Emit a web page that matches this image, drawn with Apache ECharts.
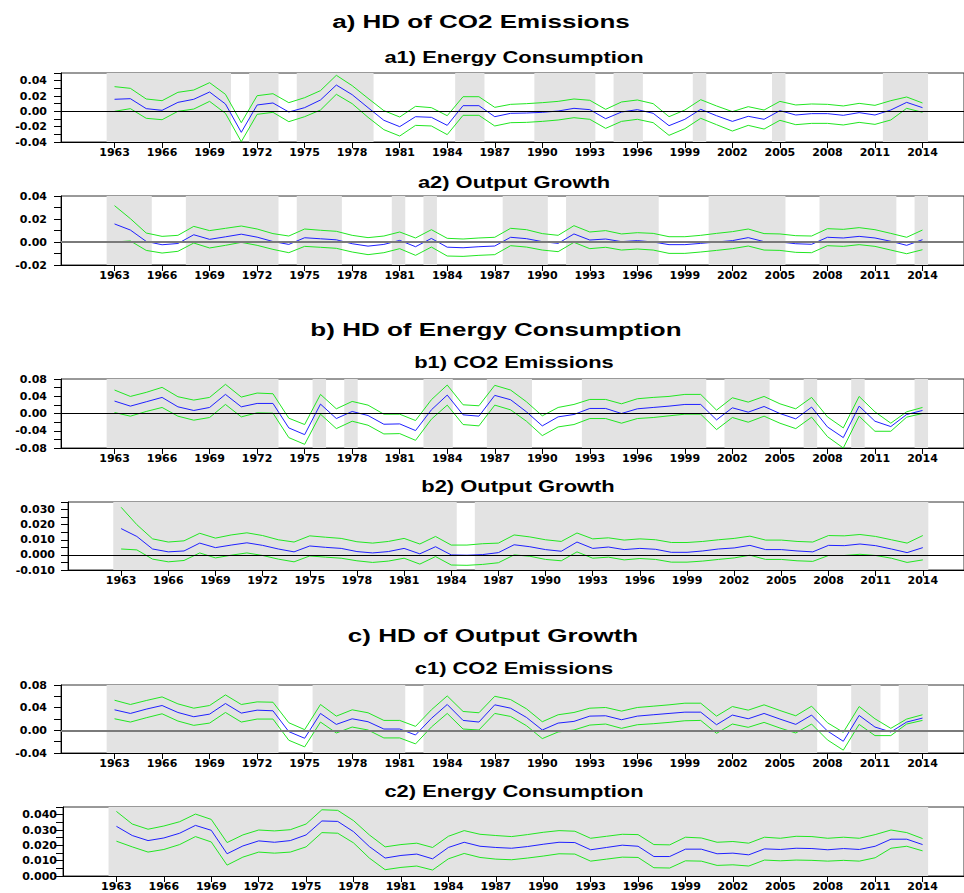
<!DOCTYPE html>
<html>
<head>
<meta charset="utf-8">
<title>Historical decomposition</title>
<script src="https://cdn.jsdelivr.net/npm/echarts@6/dist/echarts.min.js"></script>
<style>
  html, body { margin: 0; padding: 0; background: #ffffff; }
  #chart { width: 964px; height: 893px; }
</style>
</head>
<body>
<div id="chart"></div>
<script>
// ---------- data ----------
const years = [1963,1964,1965,1966,1967,1968,1969,1970,1971,1972,1973,1974,1975,1976,1977,1978,1979,1980,1981,1982,1983,1984,1985,1986,
  1987,1988,1989,1990,1991,1992,1993,1994,1995,1996,1997,1998,1999,2000,2001,2002,2003,2004,2005,2006,2007,2008,2009,2010,2011,2012,2013,2014];
const xTickYears = [1963,1966,1969,1972,1975,1978,1981,1984,1987,1990,1993,1996,1999,2002,2005,2008,2011,2014];

// a1) HD of CO2 emissions: energy consumption
const a1Mid = [0.0157,0.0165,0.0035,0.0013,0.0117,0.0157,0.0252,0.0096,-0.0274,0.0083,0.0109,-0.0009,0.0048,0.0148,0.0343,0.0217,0.0048,-0.0117,-0.0200,-0.0070,-0.0078,-0.0183,0.0074,0.0074,
  -0.0070,-0.0026,-0.0022,-0.0013,0.0004,0.0039,0.0022,-0.0096,-0.0009,0.0022,-0.0026,-0.0187,-0.0104,0.0026,-0.0057,-0.0131,-0.0065,-0.0104,0.0009,-0.0048,-0.0030,-0.0030,-0.0052,-0.0017,-0.0048,0.0017,0.0117,0.0048];
const a1Upper = [0.0322,0.0300,0.0161,0.0139,0.0248,0.0278,0.0374,0.0222,-0.0148,0.0204,0.0230,0.0113,0.0178,0.0270,0.0470,0.0335,0.0170,0.0009,-0.0074,0.0065,0.0048,-0.0057,0.0191,0.0191,
  0.0052,0.0091,0.0100,0.0113,0.0130,0.0161,0.0144,0.0026,0.0122,0.0148,0.0100,-0.0070,0.0017,0.0152,0.0070,-0.0004,0.0061,0.0017,0.0130,0.0083,0.0096,0.0091,0.0070,0.0104,0.0078,0.0139,0.0187,0.0109];
const a1Lower = [0.0000,0.0035,-0.0091,-0.0109,0.0000,0.0030,0.0130,-0.0026,-0.0396,-0.0039,-0.0013,-0.0135,-0.0070,0.0017,0.0222,0.0100,-0.0078,-0.0239,-0.0322,-0.0183,-0.0191,-0.0304,-0.0052,-0.0052,
  -0.0191,-0.0148,-0.0144,-0.0131,-0.0113,-0.0083,-0.0104,-0.0222,-0.0131,-0.0104,-0.0148,-0.0313,-0.0226,-0.0091,-0.0174,-0.0257,-0.0183,-0.0231,-0.0117,-0.0174,-0.0157,-0.0157,-0.0178,-0.0144,-0.0170,-0.0113,0.0039,-0.0013];

// a2) HD of CO2 emissions: output growth
const a2Mid = [0.0157,0.0104,0.0005,-0.0024,-0.0013,0.0063,0.0023,0.0045,0.0068,0.0042,0.0004,-0.0021,0.0037,0.0028,0.0019,-0.0015,-0.0036,-0.0021,0.0014,-0.0041,0.0031,-0.0045,-0.0050,-0.0041,
  -0.0035,0.0041,0.0029,0.0003,-0.0012,0.0070,0.0017,0.0026,0.0003,0.0012,0.0000,-0.0023,-0.0023,-0.0012,0.0000,0.0012,0.0038,0.0003,0.0000,-0.0015,-0.0020,0.0041,0.0035,0.0049,0.0035,0.0006,-0.0029,0.0020];
const a2Upper = [0.0316,0.0203,0.0078,0.0049,0.0058,0.0136,0.0099,0.0119,0.0139,0.0113,0.0073,0.0052,0.0113,0.0102,0.0093,0.0058,0.0038,0.0052,0.0087,0.0035,0.0107,0.0032,0.0026,0.0035,
  0.0041,0.0119,0.0107,0.0073,0.0058,0.0142,0.0087,0.0099,0.0070,0.0081,0.0075,0.0046,0.0046,0.0058,0.0075,0.0090,0.0113,0.0073,0.0070,0.0055,0.0052,0.0116,0.0110,0.0125,0.0107,0.0075,0.0041,0.0104];
const a2Lower = [0.0000,0.0009,-0.0073,-0.0096,-0.0081,-0.0009,-0.0052,-0.0029,-0.0003,-0.0029,-0.0064,-0.0093,-0.0038,-0.0046,-0.0055,-0.0087,-0.0110,-0.0093,-0.0058,-0.0116,-0.0044,-0.0122,-0.0125,-0.0116,
  -0.0110,-0.0032,-0.0044,-0.0070,-0.0084,-0.0003,-0.0058,-0.0046,-0.0070,-0.0061,-0.0070,-0.0099,-0.0099,-0.0087,-0.0073,-0.0058,-0.0035,-0.0070,-0.0073,-0.0090,-0.0093,-0.0032,-0.0038,-0.0023,-0.0038,-0.0070,-0.0102,-0.0067];

// b1) HD of energy consumption: CO2 emissions
const b1Mid = [0.0288,0.0171,0.0272,0.0373,0.0155,0.0070,0.0140,0.0443,0.0155,0.0233,0.0233,-0.0334,-0.0490,0.0218,-0.0117,0.0047,-0.0047,-0.0249,-0.0241,-0.0396,0.0085,0.0427,-0.0031,-0.0062,
  0.0420,0.0319,0.0039,-0.0287,-0.0078,-0.0023,0.0117,0.0117,0.0000,0.0109,0.0140,0.0171,0.0210,0.0210,-0.0148,0.0132,0.0031,0.0163,0.0000,-0.0124,0.0148,-0.0311,-0.0559,0.0171,-0.0179,-0.0303,-0.0023,0.0070];
const b1Upper = [0.0544,0.0396,0.0490,0.0606,0.0389,0.0311,0.0373,0.0676,0.0381,0.0474,0.0458,-0.0109,-0.0256,0.0443,0.0109,0.0280,0.0194,-0.0016,-0.0016,-0.0163,0.0319,0.0660,0.0202,0.0179,
  0.0653,0.0544,0.0272,-0.0054,0.0140,0.0210,0.0326,0.0326,0.0225,0.0342,0.0373,0.0396,0.0443,0.0443,0.0078,0.0365,0.0264,0.0396,0.0225,0.0109,0.0373,-0.0078,-0.0334,0.0396,0.0039,-0.0225,0.0039,0.0140];
const b1Lower = [0.0023,-0.0062,0.0047,0.0140,-0.0062,-0.0155,-0.0093,0.0210,-0.0078,0.0016,0.0008,-0.0559,-0.0715,-0.0016,-0.0350,-0.0179,-0.0272,-0.0474,-0.0466,-0.0622,-0.0132,0.0194,-0.0256,-0.0287,
  0.0194,0.0085,-0.0179,-0.0513,-0.0311,-0.0256,-0.0117,-0.0117,-0.0225,-0.0117,-0.0093,-0.0054,-0.0016,-0.0016,-0.0373,-0.0093,-0.0202,-0.0062,-0.0225,-0.0350,-0.0085,-0.0536,-0.0800,-0.0062,-0.0412,-0.0412,-0.0085,0.0000];

// b2) HD of energy consumption: output growth
const b2Mid = [0.0174,0.0122,0.0039,0.0020,0.0026,0.0078,0.0048,0.0065,0.0080,0.0063,0.0039,0.0020,0.0059,0.0050,0.0043,0.0022,0.0013,0.0022,0.0043,0.0007,0.0054,0.0000,-0.0002,0.0002,
  0.0015,0.0067,0.0054,0.0035,0.0024,0.0085,0.0043,0.0052,0.0035,0.0043,0.0037,0.0017,0.0017,0.0026,0.0039,0.0046,0.0063,0.0035,0.0035,0.0026,0.0020,0.0063,0.0061,0.0072,0.0061,0.0039,0.0015,0.0048];
const b2Upper = [0.0315,0.0200,0.0106,0.0085,0.0093,0.0143,0.0111,0.0132,0.0146,0.0128,0.0100,0.0085,0.0126,0.0117,0.0109,0.0087,0.0078,0.0089,0.0109,0.0072,0.0122,0.0065,0.0065,0.0074,
  0.0078,0.0132,0.0119,0.0100,0.0089,0.0145,0.0106,0.0113,0.0098,0.0106,0.0100,0.0082,0.0082,0.0089,0.0100,0.0109,0.0124,0.0098,0.0098,0.0089,0.0085,0.0128,0.0126,0.0135,0.0122,0.0100,0.0078,0.0128];
const b2Lower = [0.0039,0.0033,-0.0028,-0.0046,-0.0037,0.0013,-0.0020,-0.0002,0.0013,-0.0004,-0.0028,-0.0046,-0.0007,-0.0015,-0.0022,-0.0039,-0.0050,-0.0041,-0.0022,-0.0061,-0.0011,-0.0067,-0.0069,-0.0063,
  -0.0052,0.0000,-0.0009,-0.0030,-0.0039,0.0020,-0.0022,-0.0015,-0.0033,-0.0024,-0.0030,-0.0048,-0.0048,-0.0041,-0.0030,-0.0020,-0.0002,-0.0030,-0.0030,-0.0039,-0.0043,-0.0004,-0.0004,0.0004,-0.0004,-0.0022,-0.0050,-0.0033];

// c1) HD of output growth: CO2 emissions
const c1Mid = [0.0362,0.0298,0.0374,0.0438,0.0315,0.0240,0.0286,0.0473,0.0304,0.0356,0.0345,-0.0023,-0.0140,0.0298,0.0105,0.0204,0.0152,0.0023,0.0023,-0.0082,0.0210,0.0456,0.0175,0.0146,
  0.0450,0.0391,0.0228,0.0006,0.0128,0.0158,0.0251,0.0257,0.0187,0.0251,0.0275,0.0298,0.0321,0.0321,0.0099,0.0269,0.0204,0.0298,0.0199,0.0105,0.0269,-0.0012,-0.0193,0.0263,0.0058,-0.0029,0.0146,0.0216];
const c1Upper = [0.0531,0.0456,0.0526,0.0590,0.0467,0.0391,0.0438,0.0625,0.0456,0.0502,0.0496,0.0134,0.0012,0.0456,0.0251,0.0362,0.0310,0.0175,0.0175,0.0070,0.0362,0.0607,0.0333,0.0310,
  0.0601,0.0543,0.0380,0.0152,0.0275,0.0315,0.0391,0.0403,0.0339,0.0403,0.0426,0.0450,0.0479,0.0479,0.0251,0.0420,0.0356,0.0450,0.0350,0.0257,0.0426,0.0134,-0.0035,0.0420,0.0204,0.0035,0.0199,0.0275];
const c1Lower = [0.0204,0.0146,0.0222,0.0292,0.0164,0.0088,0.0128,0.0315,0.0146,0.0199,0.0199,-0.0175,-0.0292,0.0146,-0.0047,0.0058,0.0006,-0.0134,-0.0134,-0.0239,0.0058,0.0298,0.0023,0.0006,
  0.0298,0.0245,0.0082,-0.0146,-0.0029,0.0006,0.0093,0.0111,0.0035,0.0099,0.0117,0.0140,0.0169,0.0175,-0.0053,0.0111,0.0053,0.0140,0.0041,-0.0047,0.0111,-0.0169,-0.0350,0.0105,-0.0093,-0.0093,0.0111,0.0175];

// c2) HD of output growth: energy consumption
const c2Mid = [0.0324,0.0264,0.0231,0.0248,0.0279,0.0330,0.0298,0.0145,0.0196,0.0229,0.0220,0.0231,0.0268,0.0359,0.0356,0.0289,0.0192,0.0117,0.0134,0.0143,0.0112,0.0186,0.0220,0.0194,
  0.0186,0.0181,0.0192,0.0207,0.0220,0.0218,0.0171,0.0186,0.0201,0.0194,0.0127,0.0127,0.0175,0.0175,0.0145,0.0149,0.0138,0.0177,0.0173,0.0181,0.0179,0.0171,0.0179,0.0173,0.0194,0.0240,0.0240,0.0205];
const c2Upper = [0.0421,0.0339,0.0305,0.0326,0.0354,0.0404,0.0369,0.0218,0.0268,0.0300,0.0294,0.0302,0.0339,0.0432,0.0428,0.0361,0.0268,0.0190,0.0205,0.0214,0.0186,0.0259,0.0296,0.0272,
  0.0264,0.0257,0.0270,0.0285,0.0296,0.0292,0.0246,0.0259,0.0272,0.0270,0.0205,0.0203,0.0253,0.0248,0.0220,0.0225,0.0214,0.0253,0.0246,0.0259,0.0257,0.0246,0.0253,0.0246,0.0270,0.0300,0.0283,0.0244];
const c2Lower = [0.0227,0.0190,0.0156,0.0173,0.0205,0.0257,0.0222,0.0071,0.0123,0.0156,0.0149,0.0156,0.0190,0.0283,0.0279,0.0216,0.0117,0.0041,0.0056,0.0065,0.0039,0.0112,0.0147,0.0121,
  0.0110,0.0106,0.0117,0.0130,0.0145,0.0143,0.0097,0.0110,0.0123,0.0121,0.0054,0.0052,0.0099,0.0097,0.0069,0.0073,0.0065,0.0104,0.0099,0.0104,0.0102,0.0097,0.0102,0.0097,0.0119,0.0181,0.0194,0.0164];

// shaded periods (first and last year of each block)
const a1Shade = [[1963,1970],[1972,1973],[1975,1979],[1985,1986],[1990,1993],[1995,1996],[2000,2000],[2005,2005],[2012,2014]];
const a2Shade = [[1963,1965],[1968,1973],[1975,1977],[1981,1981],[1983,1983],[1988,1990],[1992,1997],[2001,2005],[2008,2012],[2014,2014]];
const b1Shade = [[1963,1973],[1976,1976],[1978,1978],[1983,1984],[1987,1989],[1993,2000],[2002,2004],[2007,2007],[2010,2010],[2014,2014]];
const b2Shade = [[1963,1984],[1986,2014]];
const c1Shade = [[1963,1973],[1976,1981],[1983,2007],[2010,2011],[2013,2014]];
const c2Shade = [[1963,2014]];

// y-axis ticks and labels
const a1YTicks = [-0.04,-0.03,-0.02,-0.01,0,0.01,0.02,0.03,0.04,0.05];
const a1YLabels = [-0.04,-0.02,0,0.02,0.04];
const a2YTicks = [-0.02,-0.01,0,0.01,0.02,0.03,0.04];
const a2YLabels = [-0.02,0,0.02,0.04];
const b1YTicks = [-0.08,-0.06,-0.04,-0.02,0,0.02,0.04,0.06,0.08];
const b1YLabels = [-0.08,-0.04,0,0.04,0.08];
const b2YTicks = [-0.01,-0.005,0,0.005,0.01,0.015,0.02,0.025,0.03,0.035];
const b2YLabels = [-0.01,0,0.01,0.02,0.03];
const c1YTicks = [-0.04,-0.02,0,0.02,0.04,0.06,0.08];
const c1YLabels = [-0.04,0,0.04,0.08];
const c2YTicks = [0,0.005,0.01,0.015,0.02,0.025,0.03,0.035,0.04,0.045];
const c2YLabels = [0,0.01,0.02,0.03,0.04];

// headings
const headings = [
  { text: 'a) HD of CO2 Emissions', main: true, x: 481, y: 21 },
  { text: 'a1) Energy Consumption', main: false, x: 514, y: 58 },
  { text: 'a2) Output Growth', main: false, x: 514, y: 183 },
  { text: 'b) HD of Energy Consumption', main: true, x: 496, y: 329 },
  { text: 'b1) CO2 Emissions', main: false, x: 514, y: 363 },
  { text: 'b2) Output Growth', main: false, x: 518, y: 487 },
  { text: 'c) HD of Output Growth', main: true, x: 493, y: 635 },
  { text: 'c1) CO2 Emissions', main: false, x: 514, y: 669 },
  { text: 'c2) Energy Consumption', main: false, x: 514, y: 792 }
];

// ---------- layout & style ----------
const X_MIN = 1959.62, X_MAX = 2016.62, PLOT_RIGHT = 965;
const BAND_LEAD = 0.5, BAND_TAIL = 0.35;
const BLUE = '#1f1fff', GREEN = '#22e622', SHADE = '#e3e3e3';
const LABEL_FONT = { fontFamily: 'DejaVu Sans', fontWeight: 'bold', fontSize: 11, color: '#000' };
const TITLE_STRETCH = 1.37;

const panels = [
  { mid: a1Mid, upper: a1Upper, lower: a1Lower, shade: a1Shade, yMin: -0.04, yMax: 0.05, ticks: a1YTicks, labels: a1YLabels, digits: 2,
    left: 61, top: 73, height: 69, labelMargin: 14, zero: { color: '#000', width: 1 } },
  { mid: a2Mid, upper: a2Upper, lower: a2Lower, shade: a2Shade, yMin: -0.02, yMax: 0.04, ticks: a2YTicks, labels: a2YLabels, digits: 2,
    left: 61, top: 196, height: 69, labelMargin: 14, zero: { color: '#7a7a7a', width: 2 } },
  { mid: b1Mid, upper: b1Upper, lower: b1Lower, shade: b1Shade, yMin: -0.08, yMax: 0.08, ticks: b1YTicks, labels: b1YLabels, digits: 2,
    left: 61, top: 379, height: 69, labelMargin: 14, zero: { color: '#000', width: 1 } },
  { mid: b2Mid, upper: b2Upper, lower: b2Lower, shade: b2Shade, yMin: -0.01, yMax: 0.035, ticks: b2YTicks, labels: b2YLabels, digits: 3,
    left: 68, top: 502, height: 68, labelMargin: 13, zero: { color: '#000', width: 1 } },
  { mid: c1Mid, upper: c1Upper, lower: c1Lower, shade: c1Shade, yMin: -0.04, yMax: 0.08, ticks: c1YTicks, labels: c1YLabels, digits: 2,
    left: 61, top: 685, height: 68, labelMargin: 14, zero: { color: '#7a7a7a', width: 2 } },
  { mid: c2Mid, upper: c2Upper, lower: c2Lower, shade: c2Shade, yMin: 0, yMax: 0.045, ticks: c2YTicks, labels: c2YLabels, digits: 3,
    left: 63, top: 807, height: 69, labelMargin: 6, zero: null }
];

const pairs = arr => years.map((yr, i) => [yr, arr[i]]);

const grid = [], xAxis = [], yAxis = [], series = [];
panels.forEach((p, k) => {
  grid.push({
    left: p.left, top: p.top, width: PLOT_RIGHT - p.left, height: p.height,
    show: true, borderColor: '#333', borderWidth: 1, backgroundColor: 'transparent'
  });
  xAxis.push({
    type: 'value', gridIndex: k, min: X_MIN, max: X_MAX,
    axisLine: { show: true, onZero: false, lineStyle: { color: '#000', width: 1 } },
    axisTick: { show: true, length: 6, customValues: xTickYears, lineStyle: { color: '#000' } },
    axisLabel: Object.assign({ margin: 5, customValues: xTickYears, formatter: v => String(v) }, LABEL_FONT),
    splitLine: { show: false }
  });
  yAxis.push({
    type: 'value', gridIndex: k, min: p.yMin, max: p.yMax,
    axisLine: { show: true, onZero: false, lineStyle: { color: '#000', width: 1 } },
    axisTick: { show: true, length: 7, customValues: p.ticks, lineStyle: { color: '#000' } },
    axisLabel: Object.assign({ margin: p.labelMargin, customValues: p.labels, formatter: v => v.toFixed(p.digits) }, LABEL_FONT),
    splitLine: { show: false }
  });
  // shaded periods, drawn on a hidden carrier series beneath the lines
  series.push({
    type: 'line', xAxisIndex: k, yAxisIndex: k, data: pairs(p.mid), symbol: 'none', silent: true, z: 1,
    lineStyle: { opacity: 0 },
    markArea: {
      silent: true, itemStyle: { color: SHADE },
      data: p.shade.map(([s, e]) => [{ xAxis: s - BAND_LEAD }, { xAxis: e + BAND_TAIL }])
    }
  });
  const band = arr => ({
    type: 'line', xAxisIndex: k, yAxisIndex: k, data: pairs(arr), symbol: 'none', silent: true, z: 3,
    lineStyle: { color: GREEN, width: 1 }
  });
  series.push(band(p.upper));
  series.push(band(p.lower));
  const midSeries = {
    type: 'line', xAxisIndex: k, yAxisIndex: k, data: pairs(p.mid), symbol: 'none', silent: true, z: 4,
    lineStyle: { color: BLUE, width: 1 }
  };
  if (p.zero) {
    midSeries.markLine = {
      silent: true, symbol: ['none', 'none'], label: { show: false },
      lineStyle: { color: p.zero.color, width: p.zero.width, type: 'solid' },
      data: [{ yAxis: 0 }]
    };
  }
  series.push(midSeries);
});

const graphic = headings.map(h => ({
  type: 'text', x: h.x, y: h.y, scaleX: TITLE_STRETCH, silent: true,
  style: {
    text: h.text, fill: '#000',
    font: h.main ? 'bold 19px "Liberation Sans", Arial, sans-serif' : 'bold 16px "Liberation Sans", Arial, sans-serif',
    align: 'center', verticalAlign: 'middle', textAlign: 'center', textVerticalAlign: 'middle'
  }
}));

const chart = echarts.init(document.getElementById('chart'), null, { renderer: 'svg' });
chart.setOption({
  animation: false,
  backgroundColor: '#ffffff',
  grid, xAxis, yAxis, series, graphic
});
</script>
</body>
</html>
